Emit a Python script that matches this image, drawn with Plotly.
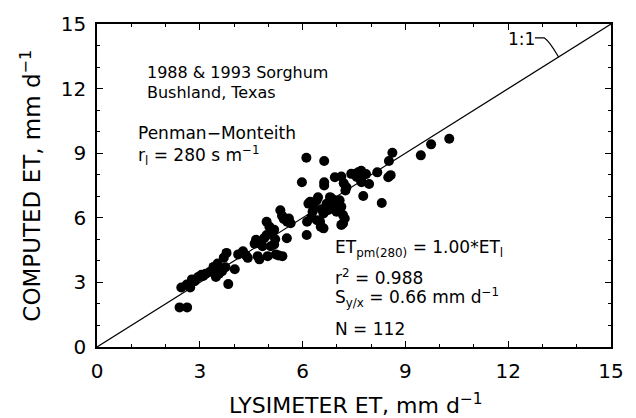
import plotly.graph_objects as go

# Lysimeter ET (x) vs computed Penman-Monteith ET (y), mm/d
lys_et = [
    2.41, 2.63, 2.46, 2.72, 2.77, 2.95, 3.10, 3.17, 3.05, 2.85,
    3.40, 3.52, 3.45, 3.47, 3.56, 3.65, 3.75, 3.83, 3.78, 3.70,
    4.02, 4.12, 4.35, 3.30, 2.62, 4.26, 4.40, 4.64, 4.60, 4.69,
    4.74, 4.83, 4.88, 4.98, 4.95, 4.95, 5.03, 5.07, 5.07, 5.17,
    5.17, 5.22, 5.30, 5.41, 5.35, 5.40, 5.45, 5.55, 5.60, 5.65,
    5.54, 5.20, 4.80, 5.98, 6.11, 6.63, 6.12, 6.13, 6.25, 6.17,
    6.22, 6.29, 6.32, 6.41, 6.42, 6.51, 6.53, 6.61, 6.61, 6.63,
    6.63, 6.75, 6.80, 6.89, 6.94, 6.94, 6.99, 7.08, 7.08, 7.13,
    7.13, 7.18, 7.13, 7.18, 7.23, 7.28, 7.25, 6.85, 6.70, 6.55,
    7.00, 7.42, 7.51, 7.62, 7.71, 7.85, 7.71, 7.72, 7.94, 7.77,
    7.58, 8.18, 8.31, 8.57, 8.52, 8.62, 8.50, 9.45, 9.75, 10.28,
    7.20, 6.45,
]
comp_et = [
    1.84, 1.84, 2.76, 2.76, 3.14, 3.25, 3.30, 3.40, 3.35, 3.05,
    3.72, 3.88, 3.60, 3.25, 3.40, 3.52, 3.70, 2.92, 4.37, 4.15,
    3.61, 4.30, 4.25, 3.50, 2.90, 4.45, 4.14, 4.98, 4.80, 4.22,
    4.07, 4.68, 5.06, 4.22, 5.20, 5.82, 5.59, 4.68, 5.29, 5.44,
    4.76, 4.30, 4.25, 4.22, 6.35, 6.10, 5.95, 5.82, 5.97, 5.75,
    5.05, 5.00, 4.90, 7.65, 8.79, 8.64, 5.20, 5.82, 6.00, 6.66,
    6.74, 6.28, 6.51, 6.81, 5.89, 5.82, 5.59, 5.51, 6.20, 7.65,
    7.50, 6.36, 6.96, 6.58, 6.81, 7.88, 6.28, 6.81, 6.43, 6.51,
    7.92, 6.13, 5.67, 5.74, 5.97, 7.42, 7.27, 6.90, 6.65, 6.40,
    6.70, 8.04, 8.03, 8.11, 8.18, 8.03, 7.73, 7.65, 7.57, 7.01,
    7.90, 8.11, 6.69, 7.98, 8.64, 9.02, 7.88, 8.90, 9.41, 9.67,
    7.60, 6.95,
]
one_to_one = [0, 15]
axis_range = [0, 15]

FONT = "DejaVu Sans"

fig = go.Figure()
fig.add_trace(go.Scatter(x=one_to_one, y=one_to_one, mode="lines",
                         line=dict(color="black", width=1.2), hoverinfo="skip"))
fig.add_trace(go.Scatter(x=lys_et, y=comp_et, mode="markers",
                         marker=dict(color="black", size=10, line=dict(width=0))))

axis_common = dict(
    range=axis_range, dtick=3, tick0=0, ticks="inside", ticklen=6, tickwidth=1.2,
    tickcolor="black", showline=True, linecolor="black", linewidth=1.5,
    mirror="ticks", showgrid=False, zeroline=False,
    minor=dict(dtick=1, ticks="inside", ticklen=3, tickcolor="black", tickwidth=1),
    tickfont=dict(family=FONT, size=20, color="black"),
    ticklabelstandoff=5,
)
fig.update_xaxes(**axis_common)
fig.update_yaxes(**axis_common)

annots = [
    dict(x=1.39, y=12.74, text="1988 &amp; 1993 Sorghum", size=16),
    dict(x=1.39, y=11.80, text="Bushland, Texas", size=16),
    dict(x=1.14, y=9.95, text="Penman\u2212Monteith", size=17),
    dict(x=1.14, y=8.88, text="r<sub>l</sub> = 280 s m<sup>\u22121</sup>", size=17),
    dict(x=6.88, y=4.59, text="ET<sub>pm(280)</sub> = 1.00*ET<sub>l</sub>", size=17),
    dict(x=6.88, y=3.24, text="r<sup>2</sup> = 0.988", size=17),
    dict(x=6.88, y=2.30, text="S<sub>y/x</sub> = 0.66 mm d<sup>\u22121</sup>", size=17),
    dict(x=6.88, y=0.84, text="N = 112", size=17),
    dict(x=11.95, y=14.31, text="1:1", size=17),
]
for a in annots:
    fig.add_annotation(x=a["x"], y=a["y"], text=a["text"], xref="x", yref="y",
                       xanchor="left", yanchor="middle", showarrow=False,
                       font=dict(family=FONT, size=a["size"], color="black"))

# leader from "1:1" label to the line
fig.add_shape(type="path", path="M 12.78 14.36 L 13.05 14.36 Q 13.2 14.2 13.47 13.47",
              xref="x", yref="y", line=dict(color="black", width=1.2))

fig.add_annotation(x=0.504, y=-0.175, xref="paper", yref="paper",
                   text="LYSIMETER ET, mm d<sup>\u22121</sup>", showarrow=False,
                   xanchor="center", yanchor="middle",
                   font=dict(family=FONT, size=22, color="black"))
fig.add_annotation(x=-0.13, y=0.5, xref="paper", yref="paper",
                   text="COMPUTED ET, mm d<sup>\u22121</sup>", showarrow=False,
                   textangle=-90, xanchor="center", yanchor="middle",
                   font=dict(family=FONT, size=23, color="black"))

fig.update_layout(
    width=636, height=418, showlegend=False,
    margin=dict(l=97, r=17, t=19, b=71),
    paper_bgcolor="white", plot_bgcolor="white",
)
fig.write_html("out.html")
